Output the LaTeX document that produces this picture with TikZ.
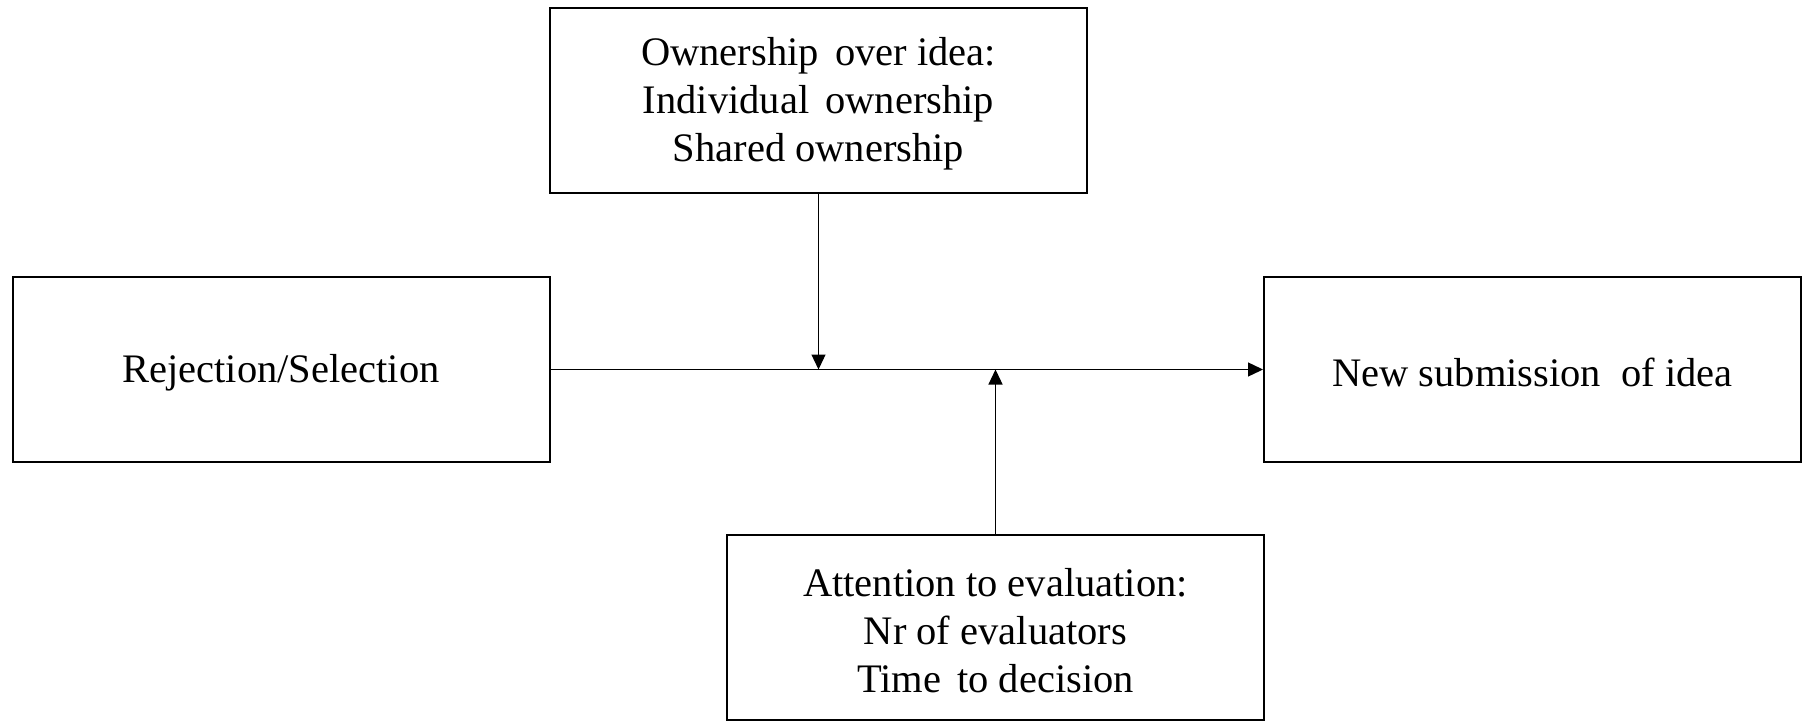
\documentclass[tikz,border=0pt]{standalone}
\usepackage{fontspec}
\setmainfont{Liberation Serif}
\usetikzlibrary{arrows.meta}
\begin{document}
\begin{tikzpicture}[x=1pt,y=-1pt,
  box/.style={draw=black,line width=2pt,minimum width=537pt,minimum height=185pt,inner sep=0pt},
  lbl/.style={align=center,inner sep=0pt,font=\fontsize{40.5}{48}\selectfont,yshift=-3pt},
  conn/.style={draw=black,line width=1.3pt,-{Triangle[length=15pt,width=14pt]}}]
\useasboundingbox (0,0) rectangle (1811,722);
\node[box,label={[lbl]center:{Ownership\hspace{0.15em} over idea:\\Individual\hspace{0.15em} ownership\\Shared ownership}}] (T) at (818.5,100.5) {};
\node[box,label={[lbl]center:{Rejection/Selection}}] (L) at (281,369.5) {};
\node[box,label={[lbl]center:{New submission\hspace{0.25em} of idea}}] (R) at (1532.5,369.5) {};
\node[box,label={[lbl]center:{Attention to evaluation:\\Nr of evaluators\\Time\hspace{0.15em} to decision}}] (B) at (995.5,627.5) {};
\draw[conn] (L.east) -- (R.west);
\draw[conn] (T.south) -- (T.south |- L.east);
\draw[conn] (B.north) -- (B.north |- L.east);
\end{tikzpicture}
\end{document}
